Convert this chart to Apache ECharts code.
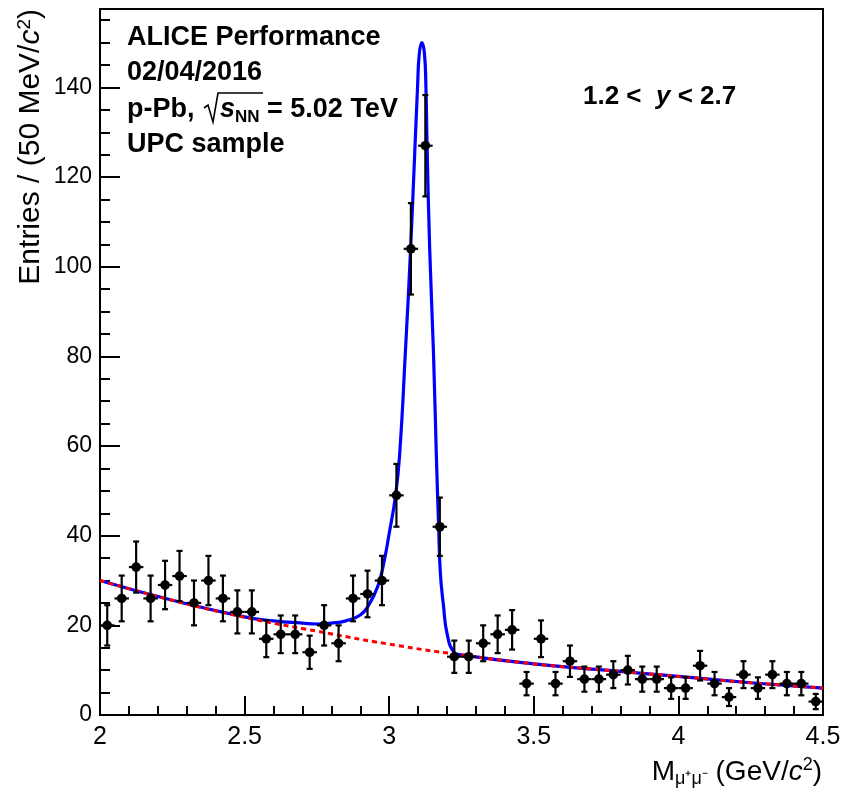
<!DOCTYPE html>
<html>
<head>
<meta charset="utf-8">
<script src="https://cdn.jsdelivr.net/npm/echarts@6/dist/echarts.min.js"></script>
<style>
  html, body { margin: 0; padding: 0; background: #fff; }
  #chart { width: 846px; height: 790px; }
</style>
</head>
<body>
<div id="chart"></div>
<script>
// bin centres (GeV/c^2), 50 MeV bins
const massBins = [2.025, 2.075, 2.125, 2.175, 2.225, 2.275, 2.325, 2.375, 2.425, 2.475,
  2.525, 2.575, 2.625, 2.675, 2.725, 2.775, 2.825, 2.875, 2.925, 2.975,
  3.025, 3.075, 3.125, 3.175, 3.225, 3.275, 3.325, 3.375, 3.425, 3.475,
  3.525, 3.575, 3.625, 3.675, 3.725, 3.775, 3.825, 3.875, 3.925, 3.975,
  4.025, 4.075, 4.125, 4.175, 4.225, 4.275, 4.325, 4.375, 4.425, 4.475]
const entries = [20, 26, 33, 26, 29, 31, 25, 30, 26, 23,
  23, 17, 18, 18, 14, 20, 16, 26, 27, 30,
  49, 104, 127, 42, 13, 13, 16, 18, 19, 7,
  17, 7, 12, 8, 8, 9, 10, 8, 8, 6,
  6, 11, 7, 4, 9, 6, 9, 7, 7, 3]
const entryErrors = [4.5, 5.1, 5.7, 5.1, 5.4, 5.6, 5.0, 5.5, 5.1, 4.8,
  4.8, 4.1, 4.2, 4.2, 3.7, 4.5, 4.0, 5.1, 5.2, 5.5,
  7.0, 10.2, 11.3, 6.5, 3.6, 3.6, 4.0, 4.2, 4.4, 2.6,
  4.1, 2.6, 3.5, 2.8, 2.8, 3.0, 3.2, 2.8, 2.8, 2.4,
  2.4, 3.3, 2.6, 2.0, 3.0, 2.4, 3.0, 2.6, 2.6, 1.7]
const binHalfWidth = 0.025

// fit curves
const totalMass = [2.0, 2.25, 2.5, 2.6, 2.7, 2.75, 2.8, 2.85, 2.9, 2.93, 2.96, 2.98, 3.0,
  3.022, 3.036, 3.056, 3.074, 3.088, 3.098, 3.104, 3.113, 3.122, 3.127, 3.131, 3.14,
  3.153, 3.163, 3.171, 3.177, 3.188, 3.2, 3.223, 3.25, 3.5, 3.75, 4.0, 4.25, 4.5]
const totalFit = [30, 25.6, 21.9, 21.0, 20.5, 20.3, 20.5, 21.0, 22.3, 24.6, 28.6, 33.5, 40.5,
  49, 58, 81, 104, 125, 140, 147.5, 150, 147.5, 140, 127, 104,
  81, 58, 42, 31.6, 24.2, 18.2, 14.1, 13.4, 11.4, 10.0, 8.6, 7.2, 6.0]
const bkgMass = [2.0, 2.25, 2.5, 2.75, 3.0, 3.25, 3.5, 3.75, 4.0, 4.25, 4.5]
const bkgFit = [30, 25.6, 21.8, 18.7, 15.8, 13.4, 11.4, 10.0, 8.6, 7.2, 6.0]

// axes
const xTicks = [2, 2.5, 3, 3.5, 4, 4.5]
const yTicks = [0, 20, 40, 60, 80, 100, 120, 140]
const xRange = [2, 4.5]
const yRange = [0, 157.5]

const FONT = "'Liberation Sans', Arial, Helvetica, sans-serif"

const zip = (xs, ys) => xs.map((x, i) => [x, ys[i]])

const chart = echarts.init(document.getElementById('chart'), null, { renderer: 'canvas' })

// data points with error bars
const renderPoint = (params, api) => {
  const x = api.value(0)
  const y = api.value(1)
  const e = api.value(2)
  const c = api.coord([x, y])
  const lo = api.coord([x, y - e])
  const hi = api.coord([x, y + e])
  const l = api.coord([x - binHalfWidth, y])
  const r = api.coord([x + binHalfWidth, y])
  const line = { stroke: '#000', lineWidth: 2.2 }
  return {
    type: 'group',
    children: [
      { type: 'line', shape: { x1: c[0], y1: lo[1], x2: c[0], y2: hi[1] }, style: line },
      { type: 'line', shape: { x1: l[0], y1: c[1], x2: r[0], y2: c[1] }, style: line },
      { type: 'line', shape: { x1: c[0] - 3, y1: lo[1], x2: c[0] + 3, y2: lo[1] }, style: line },
      { type: 'line', shape: { x1: c[0] - 3, y1: hi[1], x2: c[0] + 3, y2: hi[1] }, style: line },
      { type: 'circle', shape: { cx: c[0], cy: c[1], r: 4.8 }, style: { fill: '#000' } }
    ]
  }
}

const options = {
  backgroundColor: '#fff',
  animation: false,
  grid: {
    left: 100, right: 23, top: 9, bottom: 75,
    show: true, borderColor: '#000', borderWidth: 2, backgroundColor: 'transparent'
  },
  xAxis: {
    type: 'value',
    min: xRange[0], max: xRange[1], interval: 0.5,
    axisLine: { show: true, onZero: false, lineStyle: { color: '#000', width: 2 } },
    axisTick: { show: true, inside: true, length: 19, lineStyle: { color: '#000', width: 2 } },
    minorTick: { show: true, splitNumber: 5, length: 9, lineStyle: { color: '#000', width: 2 } },
    axisLabel: {
      color: '#000', fontSize: 25, fontFamily: FONT, margin: 10,
      customValues: xTicks
    },
    splitLine: { show: false }
  },
  yAxis: [
    {
      type: 'value',
      min: yRange[0], max: yRange[1], interval: 20,
      axisLine: { show: true, lineStyle: { color: '#000', width: 2 } },
      axisTick: { show: true, inside: true, length: 20, customValues: yTicks, lineStyle: { color: '#000', width: 2 } },
      axisLabel: {
        color: '#000', fontSize: 23, fontFamily: FONT, margin: 8,
        customValues: yTicks
      },
      splitLine: { show: false }
    },
    {
      // minor ticks every 5
      type: 'value', position: 'left',
      min: yRange[0], max: yRange[1], interval: 5,
      axisLine: { show: false },
      axisTick: { show: true, inside: true, length: 10, lineStyle: { color: '#000', width: 2 } },
      axisLabel: { show: false },
      splitLine: { show: false }
    }
  ],
  graphic: [
    {
      type: 'text', x: 31, y: 9, rotation: Math.PI / 2,
      style: {
        text: 'Entries / (50 MeV/{i|c}{sup|2})',
        fontSize: 30, fontFamily: FONT, fill: '#000', align: 'right', verticalAlign: 'middle',
        rich: {
          i: { fontSize: 30, fontFamily: FONT, fontStyle: 'italic' },
          sup: { fontSize: 19, fontFamily: FONT, padding: [0, 0, 13, 0] }
        }
      }
    },
    {
      type: 'text', x: 822, y: 772,
      style: {
        text: 'M{sub|\u03bc\u207a\u03bc\u207b} (GeV/{i|c}{sup|2})',
        fontSize: 28, fontFamily: FONT, fill: '#000', align: 'right', verticalAlign: 'middle',
        rich: {
          sub: { fontSize: 18, fontFamily: FONT, padding: [15, 0, 0, 0] },
          i: { fontSize: 28, fontFamily: FONT, fontStyle: 'italic' },
          sup: { fontSize: 18, fontFamily: FONT, padding: [0, 0, 13, 0] }
        }
      }
    },
    {
      type: 'text', x: 127, y: 38,
      style: { text: 'ALICE Performance', font: 'bold 27px ' + FONT, fill: '#000', verticalAlign: 'middle' }
    },
    {
      type: 'text', x: 127, y: 73,
      style: { text: '02/04/2016', font: 'bold 27px ' + FONT, fill: '#000', verticalAlign: 'middle' }
    },
    {
      type: 'text', x: 127, y: 110,
      style: {
        text: 'p-Pb, {gap| }{s|s}{sub|NN} = 5.02 TeV',
        font: 'bold 27px ' + FONT, fill: '#000', verticalAlign: 'middle',
        rich: {
          gap: { fontSize: 27, fontFamily: FONT, width: 18 },
          s: { fontSize: 27, fontFamily: FONT, fontWeight: 'bold', fontStyle: 'italic' },
          sub: { fontSize: 17, fontFamily: FONT, fontWeight: 'bold', padding: [14, 0, 0, 0] }
        }
      }
    },
    {
      // square-root sign over s_NN
      type: 'polyline',
      shape: { points: [[204, 108], [208, 105], [213, 122], [218, 93], [263, 93]] },
      style: { stroke: '#000', lineWidth: 1.6, fill: null }
    },
    {
      type: 'text', x: 127, y: 145,
      style: { text: 'UPC sample', font: 'bold 27px ' + FONT, fill: '#000', verticalAlign: 'middle' }
    },
    {
      type: 'text', x: 583, y: 97,
      style: {
        text: '1.2 <  {i|y} < 2.7',
        font: 'bold 26px ' + FONT, fill: '#000', verticalAlign: 'middle',
        rich: { i: { fontSize: 26, fontFamily: FONT, fontWeight: 'bold', fontStyle: 'italic' } }
      }
    }
  ],
  series: [
    {
      name: 'total fit', type: 'line', yAxisIndex: 0,
      data: zip(totalMass, totalFit),
      showSymbol: false, smooth: 0.5,
      lineStyle: { color: '#0000ff', width: 3.2 },
      z: 2
    },
    {
      name: 'background', type: 'line', yAxisIndex: 0,
      data: zip(bkgMass, bkgFit),
      showSymbol: false, smooth: 0.5,
      lineStyle: { color: '#ff0000', width: 3, type: [5, 4] },
      z: 3
    },
    {
      name: 'data', type: 'custom', yAxisIndex: 0,
      data: massBins.map((m, i) => [m, entries[i], entryErrors[i]]),
      renderItem: renderPoint,
      z: 4
    }
  ]
}

chart.setOption(options)
</script>
</body>
</html>
